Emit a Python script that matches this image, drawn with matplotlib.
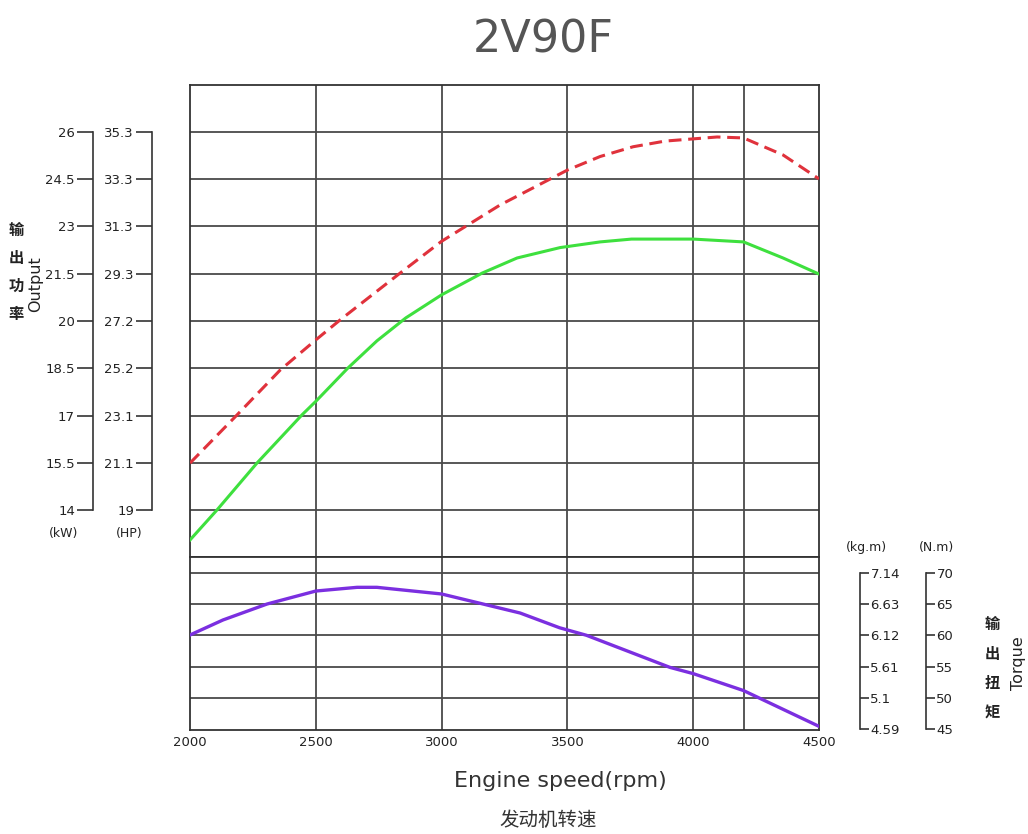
import matplotlib.pyplot as plt

# -------------------------
# Data
# -------------------------
rpm_grid = [2500, 3000, 3500, 4000, 4200]
rpm_ticks = [2000, 2500, 3000, 3500, 4000, 4500]

kw_ticks = [14, 15.5, 17, 18.5, 20, 21.5, 23, 24.5, 26]
kw_labels = ['14', '15.5', '17', '18.5', '20', '21.5', '23', '24.5', '26']
hp_labels = ['19', '21.1', '23.1', '25.2', '27.2', '29.3', '31.3', '33.3', '35.3']

nm_ticks = [45, 50, 55, 60, 65, 70]
nm_labels = ['45', '50', '55', '60', '65', '70']
kgm_labels = ['4.59', '5.1', '5.61', '6.12', '6.63', '7.14']

# max output (red dashed), kW
max_rpm = [2000, 2187, 2358, 2500, 2596, 2835, 3000, 3232, 3500, 3630, 3761, 3888, 4000, 4095, 4200, 4357, 4500]
max_kw = [15.49, 17.02, 18.44, 19.4, 20.03, 21.52, 22.53, 23.68, 24.79, 25.22, 25.53, 25.71, 25.78, 25.84, 25.81, 25.27, 24.51]

# rated output (green), kW
rated_rpm = [2000, 2107, 2266, 2445, 2500, 2628, 2743, 2858, 3000, 3161, 3300, 3471, 3630, 3755, 4000, 4200, 4357, 4500]
rated_kw = [13.05, 14.0, 15.49, 17.02, 17.45, 18.51, 19.37, 20.1, 20.83, 21.52, 22.0, 22.33, 22.51, 22.60, 22.60, 22.51, 22.0, 21.49]

# torque (purple), N.m
torque_rpm = [2000, 2131, 2306, 2500, 2664, 2743, 3000, 3165, 3312, 3469, 3576, 3907, 4000, 4200, 4500]
torque_nm = [60.05, 62.44, 64.98, 67.05, 67.64, 67.64, 66.58, 64.98, 63.55, 61.2, 60.0, 54.9, 53.9, 51.2, 45.5]

# -------------------------
# Figure / layout helpers
# -------------------------
W, H = 1028, 834
fig = plt.figure(figsize=(W / 100, H / 100), dpi=100)

NUM = ['DejaVu Sans']
CJK = ['Noto Sans CJK SC', 'DejaVu Sans']
GRID = '#4a4a4a'
TXT = '#222222'


def px_axes(left, top, right, bottom):
    return fig.add_axes([left / W, 1 - bottom / H, (right - left) / W, (bottom - top) / H])


def ftext(x, y, s, **kw):
    return fig.text(x / W, 1 - y / H, s, **kw)


kw_lim = (12.51, 27.49)
nm_lim = (44.92, 72.47)

# -------------------------
# Main panels
# -------------------------
ax_p = px_axes(190, 85, 819, 557)
ax_t = px_axes(190, 557, 819, 730)

for ax in (ax_p, ax_t):
    ax.set_xlim(2000, 4500)
    for x in rpm_grid:
        ax.axvline(x, color=GRID, lw=1.3, zorder=1)
    for sp in ax.spines.values():
        sp.set_color('#333333')
        sp.set_linewidth(1.3)

ax_p.set_ylim(*kw_lim)
for y in kw_ticks:
    ax_p.axhline(y, color=GRID, lw=1.3, zorder=1)
ax_p.set_xticks([])
ax_p.set_yticks([])

ax_t.set_ylim(*nm_lim)
for y in nm_ticks[1:]:
    ax_t.axhline(y, color=GRID, lw=1.3, zorder=1)
ax_t.set_yticks([])
ax_t.set_xticks(rpm_ticks)
ax_t.set_xticklabels([str(r) for r in rpm_ticks], family=NUM, fontsize=9.5, color=TXT)
ax_t.tick_params(axis='x', length=0, pad=4)

ax_p.plot(max_rpm, max_kw, color='#e0323c', lw=2.2, dashes=(4.2, 2.2), zorder=3)
ax_p.plot(rated_rpm, rated_kw, color='#3ee03e', lw=2.2, zorder=3)
ax_t.plot(torque_rpm, torque_nm, color='#7b2fe0', lw=2.4, zorder=3)

# -------------------------
# Left scales (kW, HP)
# -------------------------
def left_scale(xpix, labels):
    ax = px_axes(xpix, 85, xpix + 1, 557)
    ax.set_facecolor('none')
    for name, sp in ax.spines.items():
        sp.set_visible(name == 'left')
    ax.spines['left'].set_bounds(14, 26)
    ax.spines['left'].set_color('#333333')
    ax.spines['left'].set_linewidth(1.2)
    ax.set_ylim(*kw_lim)
    ax.set_xticks([])
    ax.set_yticks(kw_ticks)
    ax.set_yticklabels(labels, family=NUM, fontsize=9.5, color=TXT)
    ax.tick_params(axis='y', direction='out', length=11.5, width=1.2, color='#333333', pad=1.5)
    return ax


left_scale(93, kw_labels)
left_scale(152, hp_labels)

ftext(64, 533, '(kW)', family=NUM, fontsize=9, color=TXT, ha='center', va='center')
ftext(129, 533, '(HP)', family=NUM, fontsize=9, color=TXT, ha='center', va='center')

# -------------------------
# Right scales (kg.m, N.m)
# -------------------------
def right_scale(xpix, labels):
    ax = px_axes(xpix - 1, 557, xpix, 730)
    ax.set_facecolor('none')
    for name, sp in ax.spines.items():
        sp.set_visible(name == 'right')
    ax.spines['right'].set_bounds(45, 70)
    ax.spines['right'].set_color('#333333')
    ax.spines['right'].set_linewidth(1.2)
    ax.set_ylim(*nm_lim)
    ax.set_xticks([])
    ax.yaxis.tick_right()
    ax.set_yticks(nm_ticks)
    ax.set_yticklabels(labels, family=NUM, fontsize=9.5, color=TXT)
    ax.tick_params(axis='y', direction='out', length=6.5, width=1.2, color='#333333', pad=1)
    return ax


right_scale(860, kgm_labels)
right_scale(926, nm_labels)

ftext(866, 548, '(kg.m)', family=NUM, fontsize=9, color=TXT, ha='center', va='center')
ftext(936, 548, '(N.m)', family=NUM, fontsize=9, color=TXT, ha='center', va='center')

# -------------------------
# Axis titles
# -------------------------
for i, ch in enumerate('输出功率'):
    ftext(16, 230 + i * 28, ch, family=CJK, fontsize=11, fontweight='bold', color=TXT, ha='center', va='center')
ftext(36, 284, 'Output', family=NUM, fontsize=11.5, color=TXT, rotation=90, ha='center', va='center')

for i, ch in enumerate('输出扭矩'):
    ftext(992, 624 + i * 29.5, ch, family=CJK, fontsize=11, fontweight='bold', color=TXT, ha='center', va='center')
ftext(1018, 663, 'Torque', family=NUM, fontsize=11.5, color=TXT, rotation=90, ha='center', va='center')

ftext(560, 781, 'Engine speed(rpm)', family=NUM, fontsize=16, color='#333333', ha='center', va='center')
ftext(548, 820, '发动机转速', family=CJK, fontsize=14, color='#333333', ha='center', va='center')

ftext(543, 40, '2V90F', family=NUM, fontsize=32, color='#555555', ha='center', va='center')

fig.savefig('out.png', dpi=100)
